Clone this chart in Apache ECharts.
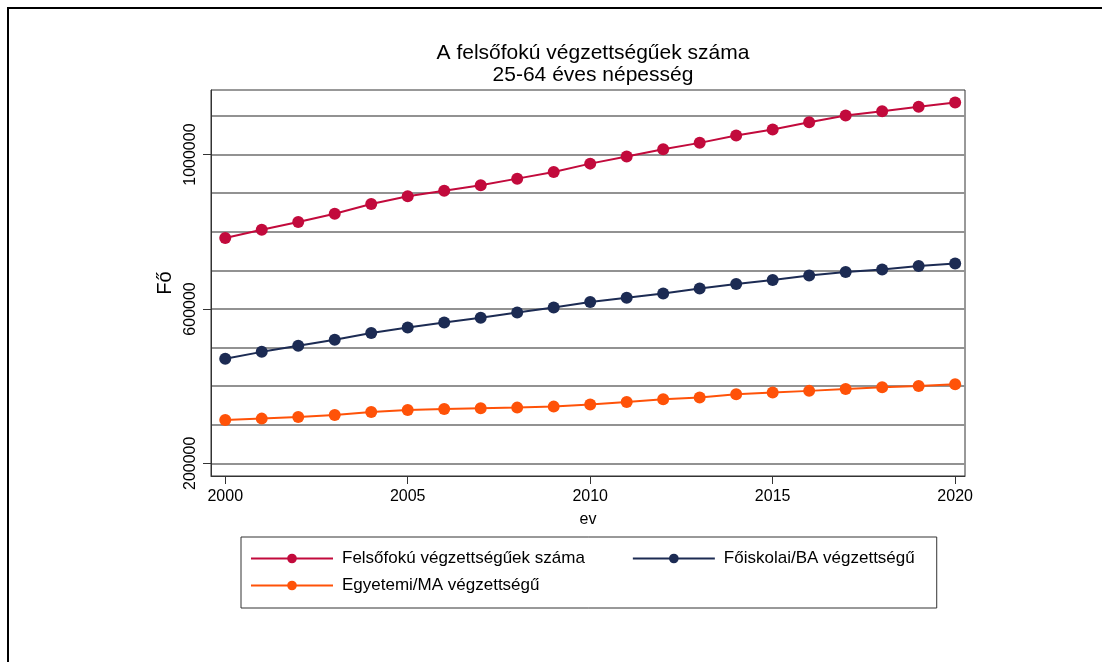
<!DOCTYPE html>
<html>
<head>
<meta charset="utf-8">
<script src="https://cdn.jsdelivr.net/npm/echarts@6/dist/echarts.min.js"></script>
<style>
  html, body { margin: 0; padding: 0; background: #fff; }
  #frame { position: absolute; left: 7px; top: 7px; width: 1200px; height: 800px;
           border-top: 2px solid #000; border-left: 2px solid #000; }
  #chart { position: absolute; left: 0; top: 0; width: 1102px; height: 662px; }
</style>
</head>
<body>
<div id="frame"></div>
<div id="chart"></div>
<script>
// adatok (ábráról leolvasva)
const years = [2000, 2001, 2002, 2003, 2004, 2005, 2006, 2007, 2008, 2009, 2010,
               2011, 2012, 2013, 2014, 2015, 2016, 2017, 2018, 2019, 2020]
const felsofoku = [783900, 805400, 825400, 846900, 872100, 891800, 906600, 920300, 937700, 955100, 976600,
                   994800, 1013800, 1030400, 1049300, 1064900, 1083800, 1101200, 1112400, 1123800, 1134900]
const foiskolai = [470700, 488800, 504400, 520000, 537400, 551900, 564900, 577100, 590800, 603800, 617800,
                   629000, 640100, 653100, 664500, 674900, 686800, 695600, 702400, 711200, 718000]
const egyetemi = [312400, 315800, 320200, 325400, 333200, 338400, 341000, 342800, 344300, 346900, 352100,
                  359100, 366100, 370300, 379100, 383200, 387700, 392800, 397300, 400600, 405000]
const xTicks = [2000, 2005, 2010, 2015, 2020]
const yLabels = [200000, 600000, 1000000]
const yGrid = [200000, 300000, 400000, 500000, 600000, 700000, 800000, 900000, 1000000, 1100000]

const names = ['Felsőfokú végzettségűek száma', 'Főiskolai/BA végzettségű', 'Egyetemi/MA végzettségű']
const colors = ['#c20a3c', '#1c2b53', '#ff5208']

const font = '"Liberation Sans", Arial, sans-serif'
const yMin = 167100, yMax = 1167400

function pairs(vals) {
  return years.map((y, i) => [y, vals[i]])
}

const chart = echarts.init(document.getElementById('chart'))

const option = {
  animation: false,
  textStyle: { fontFamily: font },
  title: {
    text: 'A felsőfokú végzettségűek száma\n25-64 éves népesség',
    left: 588, top: 37, textAlign: 'center',
    textStyle: { fontFamily: font, fontSize: 21, fontWeight: 'normal', color: '#000', lineHeight: 22 }
  },
  grid: {
    left: 211, top: 90, right: 137, bottom: 186,
    show: true, borderColor: '#333', borderWidth: 1
  },
  legend: [
    {
      data: [names[0], names[1]],
      left: 241, top: 537,
      padding: [13, 22, 41, 9],
      itemGap: 47, itemWidth: 82, itemHeight: 12,
      borderColor: '#333', borderWidth: 1,
      textStyle: { fontFamily: font, fontSize: 17, color: '#000', padding: [0, 0, 0, 4] }
    },
    {
      data: [names[2]],
      left: 250, top: 577,
      padding: 0,
      itemWidth: 82, itemHeight: 12,
      textStyle: { fontFamily: font, fontSize: 17, color: '#000', padding: [0, 0, 0, 4] }
    }
  ],
  xAxis: {
    type: 'value', min: 1999.61, max: 2020.27,
    name: 'ev', nameLocation: 'middle', nameGap: 36,
    nameTextStyle: { fontFamily: font, fontSize: 16, color: '#000' },
    axisLine: { show: true, lineStyle: { color: '#333', width: 1 } },
    axisTick: { show: true, customValues: xTicks, length: 8, lineStyle: { color: '#333' } },
    axisLabel: { customValues: xTicks, formatter: v => String(v), fontSize: 16, color: '#000', margin: 13 },
    splitLine: { show: false }
  },
  yAxis: [
    {
      type: 'value', min: yMin, max: yMax,
      name: 'Fő', nameLocation: 'middle', nameGap: 29, nameRotate: 90,
      nameTextStyle: { fontFamily: font, fontSize: 20, color: '#000' },
      axisLine: { show: true, lineStyle: { color: '#333', width: 1 } },
      axisTick: { show: true, customValues: yLabels, length: 8, lineStyle: { color: '#333' } },
      axisLabel: { customValues: yLabels, formatter: v => String(v), rotate: 90, fontSize: 16, color: '#000', margin: 12 },
      splitLine: { show: false }
    },
    {
      type: 'value', min: yMin, max: yMax, position: 'left',
      axisLine: { show: false },
      axisTick: { show: false, customValues: yGrid },
      axisLabel: { show: false, customValues: yGrid },
      splitLine: { show: true, lineStyle: { color: '#929292', width: 2 } }
    }
  ],
  series: [felsofoku, foiskolai, egyetemi].map((vals, i) => ({
    name: names[i],
    type: 'line',
    yAxisIndex: 0,
    data: pairs(vals),
    symbol: 'circle',
    symbolSize: 12,
    color: colors[i],
    lineStyle: { width: 2, color: colors[i] },
    itemStyle: { color: colors[i] }
  }))
}

chart.setOption(option)
</script>
</body>
</html>
